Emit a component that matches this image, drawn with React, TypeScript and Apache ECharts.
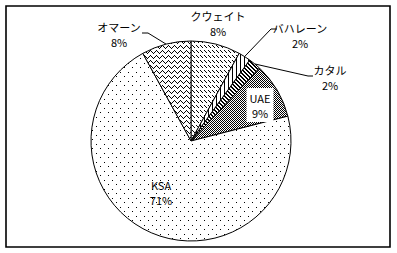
import React, { useEffect, useRef } from 'react';
import * as echarts from 'echarts';

// Share of each country (percent)
const regions = ['クウェイト', 'バハレーン', 'カタル', 'UAE', 'KSA', 'オマーン'];
const shares = [8, 2, 2, 9, 71, 8];

// Monochrome fill tiles, one string per pixel row ('#' = black pixel)
const tiles: Record<string, string[]> = {
  'クウェイト': ['#...', '.#..', '..#.', '....', '....'],
  'バハレーン': ['#...'],
  'カタル': ['##..', '.##.', '..##', '#..#'],
  'UAE': ['#.', '.#'],
  'KSA': ['#.......', '........', '........', '........', '....#...', '........', '........', '........', '........'],
  'オマーン': ['#.....', '.#...#', '..#.#.', '...#..', '......'],
};

// Label anchors and leader-line bends
const labelSpots: Record<string, { x: number; y: number; line?: number[][] }> = {
  'クウェイト': { x: 218, y: 23 },
  'バハレーン': { x: 300, y: 35, line: [[271, 29], [277, 29]] },
  'カタル': { x: 330, y: 77, line: [[308, 76], [313, 76]] },
  'UAE': { x: 260, y: 105 },
  'KSA': { x: 161, y: 192 },
  'オマーン': { x: 119, y: 34, line: [[148, 33], [142, 33]] },
};

const insideLabels = ['UAE', 'KSA'];
const noLeader = ['クウェイト'];

function makePattern(rows: string[]) {
  const h = rows.length;
  const w = rows[0].length;
  const c = document.createElement('canvas');
  c.width = w;
  c.height = h;
  const ctx = c.getContext('2d')!;
  ctx.fillStyle = '#fff';
  ctx.fillRect(0, 0, w, h);
  ctx.fillStyle = '#000';
  rows.forEach((row, y) => {
    for (let x = 0; x < w; x++) if (row[x] === '#') ctx.fillRect(x, y, 1, 1);
  });
  return { image: c, repeat: 'repeat', imageWidth: w, imageHeight: h };
}

export default function App() {
  const ref = useRef<HTMLDivElement>(null);

  useEffect(() => {
    document.body.style.margin = '0';
    const chart = echarts.init(ref.current!, null, { renderer: 'svg' });
    const font = "'Noto Sans CJK JP', 'Noto Sans', sans-serif";

    const data = regions.map((name, i) => {
      const inside = insideLabels.includes(name);
      const item: any = {
        name,
        value: shares[i],
        itemStyle: { color: makePattern(tiles[name]) },
        label: { position: inside ? 'inside' : 'outside' },
        labelLine: { show: !inside && !noLeader.includes(name) },
      };
      if (name === 'UAE') {
        item.label.backgroundColor = '#fff';
        item.label.padding = [2, 3];
      }
      return item;
    });

    chart.setOption({
      animation: false,
      backgroundColor: '#fff',
      graphic: [
        {
          type: 'rect',
          shape: { x: 6, y: 6, width: 384, height: 241 },
          style: { fill: 'none', stroke: '#000', lineWidth: 1.6 },
          silent: true,
        },
      ],
      series: [
        {
          type: 'pie',
          center: [191, 141],
          radius: 100,
          startAngle: 90,
          clockwise: true,
          avoidLabelOverlap: false,
          silent: true,
          itemStyle: { borderColor: '#000', borderWidth: 1 },
          label: {
            show: true,
            color: '#000',
            fontSize: 11,
            lineHeight: 15,
            fontFamily: font,
            align: 'center',
            formatter: (p: any) => `${p.name}\n${p.value}%`,
          },
          labelLine: { lineStyle: { color: '#000', width: 1 }, length: 10, length2: 6 },
          labelLayout: (params: any) => {
            const spot = labelSpots[regions[params.dataIndex]];
            const out: any = { x: spot.x, y: spot.y, align: 'center', verticalAlign: 'middle' };
            if (spot.line && params.labelLinePoints) {
              out.labelLinePoints = [params.labelLinePoints[0], ...spot.line];
            }
            return out;
          },
          emphasis: { disabled: true },
          data,
        },
      ],
    });

    return () => chart.dispose();
  }, []);

  return <div ref={ref} style={{ width: 397, height: 253 }} />;
}
